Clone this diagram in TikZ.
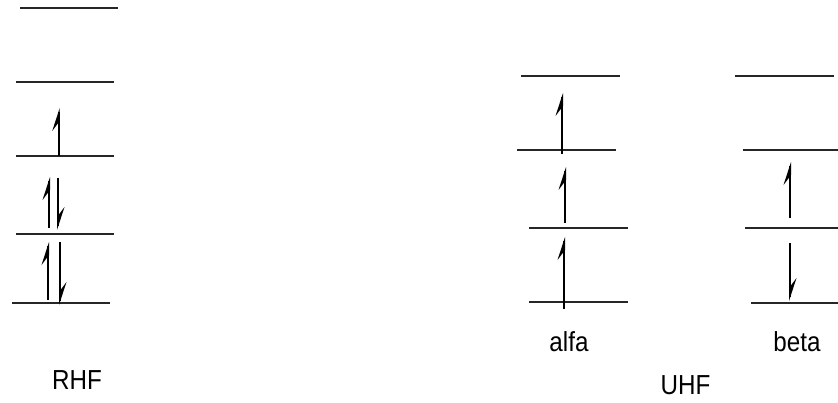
\documentclass[tikz,border=0pt]{standalone}
\usepackage{fontspec}
\setmainfont{Liberation Sans}
\begin{document}
\begin{tikzpicture}[x=1pt,y=-1pt,
  level/.style={draw=black!85,line width=1.3pt},
  shaft/.style={draw=black,line width=2pt},
  barb/.style={fill=black},
  lab/.style={inner sep=0pt,font=\fontsize{27.5}{30}\selectfont}]
\useasboundingbox (0,0) rectangle (838,402);
\newcommand{\spinup}[3]{%
  \draw[shaft] (#1,#2) -- (#1,#3+4);
  \fill[barb] (#1+1,#3) -- (#1-6.5,#3+23) -- (#1+1,#3+13) -- cycle;}
\newcommand{\spindown}[3]{%
  \draw[shaft] (#1,#2) -- (#1,#3-4);
  \fill[barb] (#1-1,#3) -- (#1+6.5,#3-23) -- (#1-1,#3-13) -- cycle;}
% RHF levels
\draw[level] (20,8) -- (118,8);
\draw[level] (16,82) -- (114,82);
\draw[level] (16,156) -- (114,156);
\draw[level] (16,234) -- (114,234);
\draw[level] (12,303) -- (110,303);
\spinup{58.7}{156}{108}
\spinup{49}{228}{177}
\spindown{58}{178}{230}
\spinup{48}{300}{242}
\spindown{60}{242}{305}
% UHF alfa
\draw[level] (521,76) -- (620,76);
\draw[level] (517,150) -- (616,150);
\draw[level] (529,228) -- (628,228);
\draw[level] (529,302) -- (628,302);
\spinup{562}{154}{93}
\spinup{565}{223}{167}
\spinup{564}{309}{237}
% UHF beta
\draw[level] (735,76) -- (834,76);
\draw[level] (743,150) -- (838,150);
\draw[level] (745,228) -- (838,228);
\draw[level] (751,303) -- (838,303);
\spinup{790}{218}{162}
\spindown{790}{243}{301}
% labels
\node[lab] (rhf) at (77,380) {\scalebox{0.88}[1]{RHF}};
\node[lab] (alfa) at (569,342) {\scalebox{0.88}[1]{alfa}};
\node[lab] (beta) at (797,342) {\scalebox{0.88}[1]{beta}};
\node[lab] (uhf) at (685.5,385) {\scalebox{0.88}[1]{UHF}};
\end{tikzpicture}
\end{document}
